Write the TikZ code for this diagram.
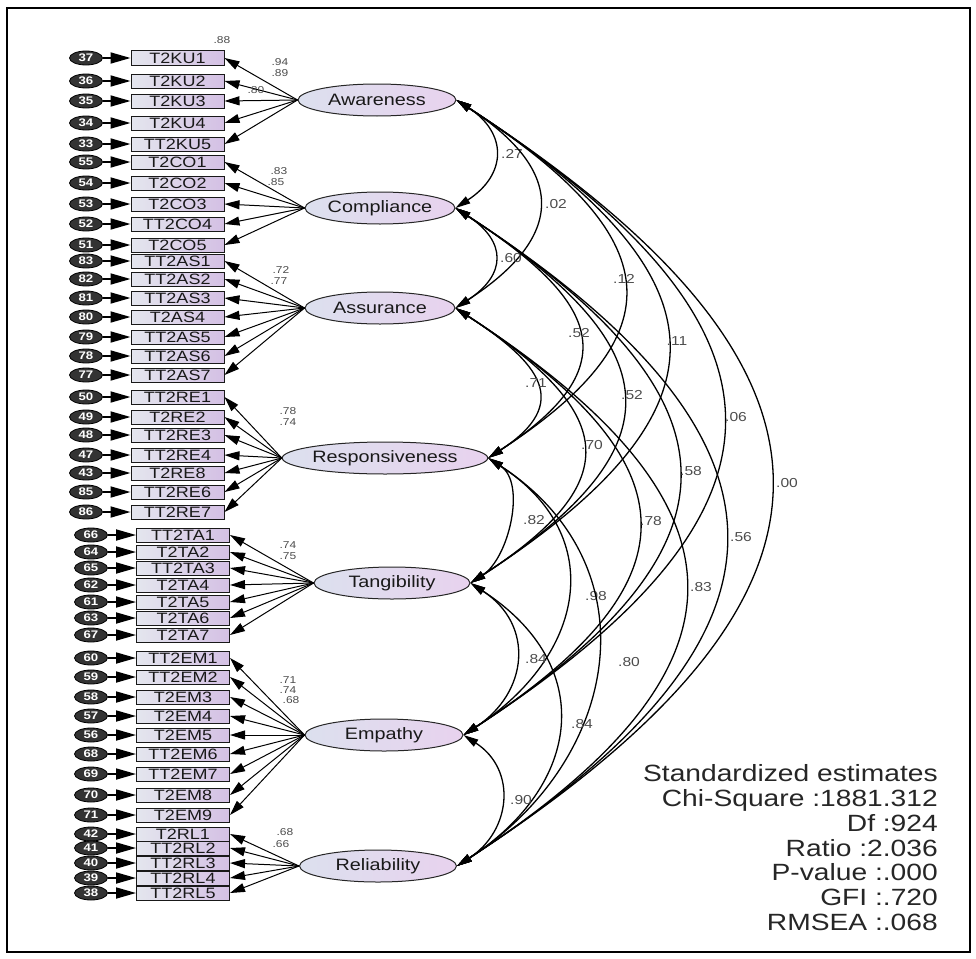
\documentclass[tikz,border=0pt]{standalone}
\usepackage{fontspec}
\setmainfont[FakeStretch=1.2]{Liberation Sans}
\usetikzlibrary{arrows.meta,calc,shapes.geometric}
\definecolor{latL}{HTML}{DCE0EE}
\definecolor{latR}{HTML}{E8D2EE}
\definecolor{obsL}{HTML}{E4E6EE}
\definecolor{obsR}{HTML}{D4C0E4}
\newcommand\covarc[4]{%
  \draw[cov] let \p1=(#1.east), \p2=(#2.east), \n1={(#3pt-\x1)/0.75} in
    (\p1) .. controls (\x1+\n1,\y1-0.65*\n1) and (\x2+\n1,\y2+0.65*\n1) .. (\p2);
  \path let \p1=(#1.east), \p2=(#2.east) in
    node[clab] at (#3pt+17pt,{0.5*(\y1+\y2)}) {#4};}
\begin{document}
\begin{tikzpicture}[x=1pt,y=-1pt,
  latent/.style={ellipse, draw=black!85, line width=1pt, minimum width=#1,
    minimum height=32pt, inner sep=0pt, left color=latL, right color=latR,
    font=\fontsize{16.5}{18}\selectfont, text=black!90},
  obs/.style={rectangle, draw=black!90, line width=1pt, minimum width=93pt,
    minimum height=14pt, inner sep=0pt, left color=obsL, right color=obsR,
    font=\fontsize{15}{15}\selectfont, text=black!90},
  err/.style={ellipse, fill=black!80, draw=black, line width=0.8pt, minimum width=33pt,
    minimum height=14pt, inner sep=0pt, text=white,
    font=\fontsize{11}{11}\selectfont\bfseries},
  load/.style={-{Triangle[length=15pt,width=9pt]}, line width=1pt},
  eta/.style={-{Triangle[length=20pt,width=11pt]}, line width=1.8pt},
  cov/.style={{Triangle[length=15pt,width=8pt]}-{Triangle[length=15pt,width=8pt]}, line width=1.3pt},
  clab/.style={font=\fontsize{13}{13}\selectfont, text=black!70, inner sep=0pt},
  llab/.style={font=\fontsize{10}{10}\selectfont, text=black!70, inner sep=0pt},
  stat/.style={font=\fontsize{23.5}{24}\selectfont, text=black!85, anchor=base east, inner sep=0pt}
]
\useasboundingbox (0,0) rectangle (976,958);
\draw[line width=2pt] (7,8) rectangle (970,952);

% latent variables
\node[latent=158pt] (aw) at (377,100) {Awareness};
\node[latent=150pt] (co) at (380,208) {Compliance};
\node[latent=150pt] (as) at (380,308) {Assurance};
\node[latent=158pt] (re) at (385,458) {Responsiveness};
\node[latent=156pt] (ta) at (392,583) {Tangibility};
\node[latent=158pt] (em) at (384,735) {Empathy};
\node[latent=157pt] (rl) at (378,866) {Reliability};

% observed variables, group A
\foreach \y/\nm/\e/\id/\lat in {
  58/T2KU1/37/ku1/aw, 81/T2KU2/36/ku2/aw, 101/T2KU3/35/ku3/aw, 123/T2KU4/34/ku4/aw, 144/TT2KU5/33/ku5/aw,
  162/T2CO1/55/co1/co, 183/T2CO2/54/co2/co, 204/T2CO3/53/co3/co, 224/TT2CO4/52/co4/co, 245/T2CO5/51/co5/co,
  261/TT2AS1/83/as1/as, 279/TT2AS2/82/as2/as, 298/TT2AS3/81/as3/as, 317/T2AS4/80/as4/as, 337/TT2AS5/79/as5/as, 356/TT2AS6/78/as6/as, 375/TT2AS7/77/as7/as,
  397/TT2RE1/50/re1/re, 417/T2RE2/49/re2/re, 435/TT2RE3/48/re3/re, 455/TT2RE4/47/re4/re, 473/T2RE8/43/re5/re, 492/TT2RE6/85/re6/re, 512/TT2RE7/86/re7/re}{
  \node[obs] (\id) at (177.5,\y) {\nm};
  \node[err] (e\id) at (86,\y) {\e};
  \draw[eta] (e\id) -- (\id);
  \draw[load] (\lat.west) -- (\id.east);
}
% observed variables, group B
\foreach \y/\nm/\e/\id/\lat in {
  535/TT2TA1/66/ta1/ta, 552/T2TA2/64/ta2/ta, 568/TT2TA3/65/ta3/ta, 585/T2TA4/62/ta4/ta, 602/T2TA5/61/ta5/ta, 618/T2TA6/63/ta6/ta, 635/T2TA7/67/ta7/ta,
  658/TT2EM1/60/em1/em, 677/TT2EM2/59/em2/em, 697/T2EM3/58/em3/em, 716/T2EM4/57/em4/em, 735/T2EM5/56/em5/em, 754/TT2EM6/68/em6/em, 774/TT2EM7/69/em7/em, 795/T2EM8/70/em8/em, 815/T2EM9/71/em9/em,
  834/T2RL1/42/rl1/rl, 848/TT2RL2/41/rl2/rl, 863/TT2RL3/40/rl3/rl, 878/TT2RL4/39/rl4/rl, 893/TT2RL5/38/rl5/rl}{
  \node[obs] (\id) at (183,\y) {\nm};
  \node[err] (e\id) at (91,\y) {\e};
  \draw[eta] (e\id) -- (\id);
  \draw[load] (\lat.west) -- (\id.east);
}

% loading labels
\node[llab] (r2) at (222,40) {.88};
\foreach \x/\y/\t/\id in {280/62/.94/l1, 280/73/.89/l2, 256/90/.80/l3,
  279/171/.83/l4, 276/182/.85/l5, 281/270/.72/l6, 279/281/.77/l7,
  288/411/.78/l8, 288/422/.74/l9, 288/545/.74/l10, 288/556/.75/l11,
  288/680/.71/l12, 288/690/.74/l13, 291/700/.68/l14, 285/832/.68/l15, 281/844/.66/l16}{
  \node[llab] (\id) at (\x,\y) {\t};
}

% covariances
\covarc{aw}{co}{495}{.27}
\covarc{aw}{as}{539}{.02}
\covarc{aw}{re}{607}{.12}
\covarc{aw}{ta}{660}{.11}
\covarc{aw}{em}{719}{.06}
\covarc{aw}{rl}{770}{.00}
\covarc{co}{as}{494}{.60}
\covarc{co}{re}{562}{.52}
\covarc{co}{ta}{615}{.52}
\covarc{co}{em}{674}{.58}
\covarc{co}{rl}{724}{.56}
\covarc{as}{re}{519}{.71}
\covarc{as}{ta}{575}{.70}
\covarc{as}{em}{634}{.78}
\covarc{as}{rl}{684}{.83}
\covarc{re}{ta}{517}{.82}
\covarc{re}{em}{579}{.98}
\covarc{re}{rl}{612}{.80}
\covarc{ta}{em}{519}{.84}
\covarc{ta}{rl}{565}{.84}
\covarc{em}{rl}{504}{.90}

% fit statistics
\node[stat] (s1) at (938,781) {Standardized estimates};
\node[stat] (s2) at (938,806) {Chi-Square :1881.312};
\node[stat] (s3) at (938,831) {Df :924};
\node[stat] (s4) at (938,856) {Ratio :2.036};
\node[stat] (s5) at (938,880) {P-value :.000};
\node[stat] (s6) at (938,905) {GFI :.720};
\node[stat] (s7) at (938,930) {RMSEA :.068};
\end{tikzpicture}
\end{document}
